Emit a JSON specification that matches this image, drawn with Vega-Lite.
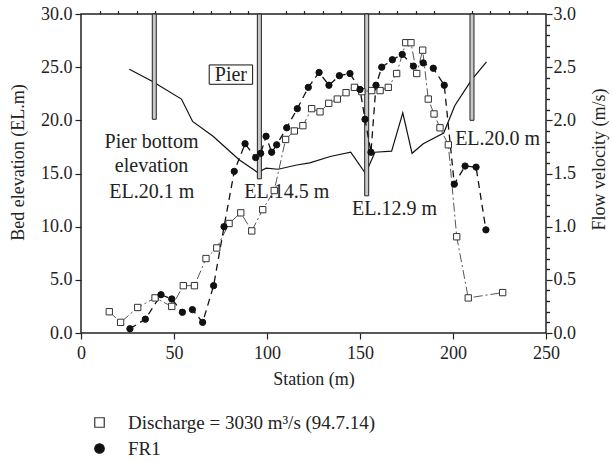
{
  "$schema": "https://vega.github.io/schema/vega-lite/v6.json",
  "width": 465,
  "height": 319,
  "autosize": {"type": "none"},
  "padding": {"left": 81, "top": 14, "right": 66, "bottom": 129},
  "background": "white",
  "config": {
    "font": "Liberation Serif",
    "view": {"stroke": "#222", "strokeWidth": 1.5},
    "scale": {"continuousPadding": 0},
    "axis": {
      "labelFont": "Liberation Serif", "titleFont": "Liberation Serif",
      "labelFontSize": 18, "titleFontSize": 18, "titleFontWeight": "normal",
      "labelColor": "#222", "titleColor": "#222", "grid": false,
      "ticks": true, "domain": false, "tickColor": "#222", "tickWidth": 1.2,
      "labelFlush": false, "labelOverlap": false, "labelBound": false
    },
    "legend": {"labelFont": "Liberation Serif", "labelFontSize": 19, "labelColor": "#222", "labelLimit": 500}
  },
  "datasets": {
    "bed": [
      {"station": 26, "elev": 24.8}, {"station": 38, "elev": 23.7}, {"station": 54, "elev": 22.0},
      {"station": 60, "elev": 19.9}, {"station": 71, "elev": 18.5}, {"station": 85, "elev": 16.3},
      {"station": 95, "elev": 15.1}, {"station": 99.5, "elev": 15.5}, {"station": 106, "elev": 15.4},
      {"station": 116, "elev": 15.8}, {"station": 123, "elev": 16.0}, {"station": 134, "elev": 16.6},
      {"station": 145, "elev": 17.0}, {"station": 153, "elev": 15.0}, {"station": 158, "elev": 17.0},
      {"station": 167, "elev": 17.1}, {"station": 173, "elev": 20.7}, {"station": 178, "elev": 16.9},
      {"station": 184, "elev": 17.8}, {"station": 195, "elev": 18.8}, {"station": 201, "elev": 21.4},
      {"station": 210, "elev": 23.8}, {"station": 218, "elev": 25.5}
    ],
    "piers": [
      {"station": 39.4, "bottom": 20.1}, {"station": 95.9, "bottom": 14.5},
      {"station": 153.6, "bottom": 12.9}, {"station": 210.2, "bottom": 20.0}
    ],
    "notes": [
      {"station": 37.9, "elev": 17.99, "label": "Pier bottom"},
      {"station": 37.9, "elev": 15.73, "label": "elevation"},
      {"station": 38.1, "elev": 13.29, "label": "EL.20.1 m"},
      {"station": 110.6, "elev": 13.29, "label": "EL.14.5 m"},
      {"station": 168.6, "elev": 11.63, "label": "EL.12.9 m"},
      {"station": 224, "elev": 18.2, "label": "EL.20.0 m"},
      {"station": 80.6, "elev": 24.3, "label": "Pier"}
    ],
    "vel": [
      {"series": "Discharge = 3030 m³/s (94.7.14)", "station": 15.2, "v": 0.20},
      {"series": "Discharge = 3030 m³/s (94.7.14)", "station": 21.3, "v": 0.10},
      {"series": "Discharge = 3030 m³/s (94.7.14)", "station": 30.5, "v": 0.24},
      {"series": "Discharge = 3030 m³/s (94.7.14)", "station": 39.8, "v": 0.33},
      {"series": "Discharge = 3030 m³/s (94.7.14)", "station": 48.8, "v": 0.25},
      {"series": "Discharge = 3030 m³/s (94.7.14)", "station": 55.0, "v": 0.445},
      {"series": "Discharge = 3030 m³/s (94.7.14)", "station": 61.0, "v": 0.445},
      {"series": "Discharge = 3030 m³/s (94.7.14)", "station": 67.2, "v": 0.70},
      {"series": "Discharge = 3030 m³/s (94.7.14)", "station": 73.0, "v": 0.80},
      {"series": "Discharge = 3030 m³/s (94.7.14)", "station": 79.6, "v": 1.03},
      {"series": "Discharge = 3030 m³/s (94.7.14)", "station": 85.9, "v": 1.13},
      {"series": "Discharge = 3030 m³/s (94.7.14)", "station": 91.8, "v": 0.96},
      {"series": "Discharge = 3030 m³/s (94.7.14)", "station": 97.7, "v": 1.16},
      {"series": "Discharge = 3030 m³/s (94.7.14)", "station": 103.9, "v": 1.34},
      {"series": "Discharge = 3030 m³/s (94.7.14)", "station": 110.0, "v": 1.82},
      {"series": "Discharge = 3030 m³/s (94.7.14)", "station": 114.7, "v": 1.90},
      {"series": "Discharge = 3030 m³/s (94.7.14)", "station": 119.3, "v": 1.95},
      {"series": "Discharge = 3030 m³/s (94.7.14)", "station": 124.0, "v": 2.11},
      {"series": "Discharge = 3030 m³/s (94.7.14)", "station": 128.5, "v": 2.08},
      {"series": "Discharge = 3030 m³/s (94.7.14)", "station": 133.2, "v": 2.16},
      {"series": "Discharge = 3030 m³/s (94.7.14)", "station": 137.8, "v": 2.20},
      {"series": "Discharge = 3030 m³/s (94.7.14)", "station": 142.5, "v": 2.26},
      {"series": "Discharge = 3030 m³/s (94.7.14)", "station": 147.0, "v": 2.31},
      {"series": "Discharge = 3030 m³/s (94.7.14)", "station": 151.0, "v": 2.27},
      {"series": "Discharge = 3030 m³/s (94.7.14)", "station": 156.3, "v": 2.28},
      {"series": "Discharge = 3030 m³/s (94.7.14)", "station": 160.8, "v": 2.28},
      {"series": "Discharge = 3030 m³/s (94.7.14)", "station": 165.2, "v": 2.31},
      {"series": "Discharge = 3030 m³/s (94.7.14)", "station": 169.7, "v": 2.44},
      {"series": "Discharge = 3030 m³/s (94.7.14)", "station": 174.6, "v": 2.73},
      {"series": "Discharge = 3030 m³/s (94.7.14)", "station": 177.4, "v": 2.73},
      {"series": "Discharge = 3030 m³/s (94.7.14)", "station": 180.5, "v": 2.44},
      {"series": "Discharge = 3030 m³/s (94.7.14)", "station": 183.7, "v": 2.66},
      {"series": "Discharge = 3030 m³/s (94.7.14)", "station": 186.7, "v": 2.20},
      {"series": "Discharge = 3030 m³/s (94.7.14)", "station": 189.8, "v": 2.06},
      {"series": "Discharge = 3030 m³/s (94.7.14)", "station": 193.0, "v": 1.93},
      {"series": "Discharge = 3030 m³/s (94.7.14)", "station": 197.5, "v": 1.77},
      {"series": "Discharge = 3030 m³/s (94.7.14)", "station": 202.0, "v": 0.905},
      {"series": "Discharge = 3030 m³/s (94.7.14)", "station": 208.2, "v": 0.33},
      {"series": "Discharge = 3030 m³/s (94.7.14)", "station": 226.7, "v": 0.38},
      {"series": "FR1", "station": 26.3, "v": 0.04},
      {"series": "FR1", "station": 34.6, "v": 0.13},
      {"series": "FR1", "station": 43.0, "v": 0.36},
      {"series": "FR1", "station": 48.8, "v": 0.32},
      {"series": "FR1", "station": 54.5, "v": 0.195},
      {"series": "FR1", "station": 59.9, "v": 0.22},
      {"series": "FR1", "station": 65.4, "v": 0.10},
      {"series": "FR1", "station": 71.3, "v": 0.445},
      {"series": "FR1", "station": 76.9, "v": 1.0},
      {"series": "FR1", "station": 82.4, "v": 1.52},
      {"series": "FR1", "station": 88.2, "v": 1.78},
      {"series": "FR1", "station": 93.9, "v": 1.65},
      {"series": "FR1", "station": 96.6, "v": 1.69},
      {"series": "FR1", "station": 99.5, "v": 1.85},
      {"series": "FR1", "station": 102.5, "v": 1.70},
      {"series": "FR1", "station": 105.2, "v": 1.77},
      {"series": "FR1", "station": 110.6, "v": 1.93},
      {"series": "FR1", "station": 116.3, "v": 2.11},
      {"series": "FR1", "station": 122.2, "v": 2.31},
      {"series": "FR1", "station": 128.0, "v": 2.45},
      {"series": "FR1", "station": 133.3, "v": 2.33},
      {"series": "FR1", "station": 138.9, "v": 2.42},
      {"series": "FR1", "station": 144.6, "v": 2.44},
      {"series": "FR1", "station": 150.0, "v": 2.29},
      {"series": "FR1", "station": 152.7, "v": 2.01},
      {"series": "FR1", "station": 155.9, "v": 1.70},
      {"series": "FR1", "station": 158.6, "v": 2.33},
      {"series": "FR1", "station": 161.7, "v": 2.50},
      {"series": "FR1", "station": 167.4, "v": 2.57},
      {"series": "FR1", "station": 172.7, "v": 2.62},
      {"series": "FR1", "station": 178.7, "v": 2.51},
      {"series": "FR1", "station": 184.0, "v": 2.54},
      {"series": "FR1", "station": 189.4, "v": 2.49},
      {"series": "FR1", "station": 195.3, "v": 2.33},
      {"series": "FR1", "station": 200.7, "v": 1.40},
      {"series": "FR1", "station": 206.5, "v": 1.57},
      {"series": "FR1", "station": 212.4, "v": 1.56},
      {"series": "FR1", "station": 217.7, "v": 0.97}
    ]
  },
  "resolve": {"scale": {"y": "independent"}, "axis": {"x": "independent", "y": "independent"}},
  "layer": [
    {
      "data": {"name": "bed"},
      "mark": {"type": "line", "color": "#111", "strokeWidth": 1.2},
      "encoding": {
        "x": {"field": "station", "type": "quantitative", "scale": {"domain": [0, 250], "nice": false, "padding": 0},
          "axis": {"title": "Station (m)", "values": [0, 50, 100, 150, 200, 250], "format": "d", "tickSize": 6,
            "labelPadding": 19, "labelBaseline": "alphabetic", "titleY": 51, "titleBaseline": "alphabetic"}},
        "y": {"field": "elev", "type": "quantitative", "scale": {"domain": [0, 30], "nice": false, "padding": 0},
          "axis": {"title": "Bed elevation (EL.m)", "values": [0, 5, 10, 15, 20, 25, 30], "format": ".1f", "tickSize": 6,
            "labelPadding": 3, "labelBaseline": "middle", "titleX": -58, "titleY": 148, "titleAngle": 270, "titleBaseline": "alphabetic"}}
      }
    },
    {
      "data": {"name": "piers"},
      "mark": {"type": "bar", "size": 4, "fill": "#c8c8c8", "stroke": "#222", "strokeWidth": 1},
      "encoding": {
        "x": {"field": "station", "type": "quantitative", "scale": {"domain": [0, 250], "nice": false, "padding": 0},
          "axis": {"title": null, "labels": false, "tickSize": 3.5,
            "values": [10, 20, 30, 40, 60, 70, 80, 90, 110, 120, 130, 140, 160, 170, 180, 190, 210, 220, 230, 240]}},
        "y": {"field": "bottom", "type": "quantitative", "scale": {"domain": [0, 30], "nice": false, "padding": 0},
          "axis": {"title": null, "labels": false, "tickSize": 3.5,
            "values": [1, 2, 3, 4, 6, 7, 8, 9, 11, 12, 13, 14, 16, 17, 18, 19, 21, 22, 23, 24, 26, 27, 28, 29]}},
        "y2": {"datum": 30}
      }
    },
    {
      "data": {"name": "notes"},
      "transform": [{"filter": "datum.label === 'Pier'"}],
      "mark": {"type": "point", "shape": "M-1,-0.445L1,-0.445L1,0.445L-1,0.445Z", "size": 1884, "filled": true, "fill": "white", "stroke": "#111", "strokeWidth": 1, "opacity": 1},
      "encoding": {
        "x": {"field": "station", "type": "quantitative", "scale": {"domain": [0, 250], "nice": false, "padding": 0}, "axis": null},
        "y": {"field": "elev", "type": "quantitative", "scale": {"domain": [0, 30], "nice": false, "padding": 0}, "axis": null}
      }
    },
    {
      "data": {"name": "notes"},
      "mark": {"type": "text", "font": "Liberation Serif", "fontSize": 20, "color": "#222", "baseline": "middle", "align": "center"},
      "encoding": {
        "x": {"field": "station", "type": "quantitative", "scale": {"domain": [0, 250], "nice": false, "padding": 0}, "axis": null},
        "y": {"field": "elev", "type": "quantitative", "scale": {"domain": [0, 30], "nice": false, "padding": 0}, "axis": null},
        "text": {"field": "label"}
      }
    },
    {
      "data": {"name": "vel"},
      "transform": [{"filter": "datum.series !== 'FR1'"}],
      "mark": {"type": "line", "stroke": "#555", "strokeWidth": 1, "strokeDash": [9, 3, 2, 3]},
      "encoding": {
        "x": {"field": "station", "type": "quantitative", "scale": {"domain": [0, 250], "nice": false, "padding": 0}, "axis": null},
        "y": {"field": "v", "type": "quantitative", "scale": {"domain": [0, 3], "nice": false, "padding": 0},
          "axis": {"orient": "right", "title": "Flow velocity (m/s)", "values": [0, 0.5, 1, 1.5, 2, 2.5, 3], "format": ".1f", "tickSize": 6,
            "labelPadding": 1, "labelBaseline": "middle", "titleX": 58, "titleY": 145, "titleAngle": 270, "titleBaseline": "alphabetic"}}
      }
    },
    {
      "data": {"name": "vel"},
      "transform": [{"filter": "datum.series === 'FR1'"}],
      "mark": {"type": "line", "stroke": "#111", "strokeWidth": 1.3, "strokeDash": [7, 5]},
      "encoding": {
        "x": {"field": "station", "type": "quantitative", "scale": {"domain": [0, 250], "nice": false, "padding": 0}, "axis": null},
        "y": {"field": "v", "type": "quantitative", "scale": {"domain": [0, 3], "nice": false, "padding": 0}, "axis": null}
      }
    },
    {
      "data": {"name": "vel"},
      "mark": {"type": "point", "size": 40, "strokeWidth": 1, "opacity": 1},
      "encoding": {
        "x": {"field": "station", "type": "quantitative", "scale": {"domain": [0, 250], "nice": false, "padding": 0}, "axis": null},
        "y": {"field": "v", "type": "quantitative", "scale": {"domain": [0, 3], "nice": false, "padding": 0},
          "axis": {"orient": "right", "title": null, "labels": false, "tickSize": 3.5,
            "values": [0.1, 0.2, 0.3, 0.4, 0.6, 0.7, 0.8, 0.9, 1.1, 1.2, 1.3, 1.4, 1.6, 1.7, 1.8, 1.9, 2.1, 2.2, 2.3, 2.4, 2.6, 2.7, 2.8, 2.9]}},
        "shape": {"field": "series", "type": "nominal",
          "scale": {"domain": ["Discharge = 3030 m³/s (94.7.14)", "FR1"], "range": ["square", "circle"]},
          "legend": {"title": null, "orient": "none", "legendX": 9, "legendY": 399, "padding": 0,
            "symbolSize": 90, "symbolStrokeWidth": 1.2, "labelOffset": 19, "rowPadding": 6}},
        "fill": {"field": "series", "type": "nominal",
          "scale": {"domain": ["Discharge = 3030 m³/s (94.7.14)", "FR1"], "range": ["white", "#111"]}},
        "stroke": {"field": "series", "type": "nominal",
          "scale": {"domain": ["Discharge = 3030 m³/s (94.7.14)", "FR1"], "range": ["#333", "#111"]}}
      }
    }
  ]
}
